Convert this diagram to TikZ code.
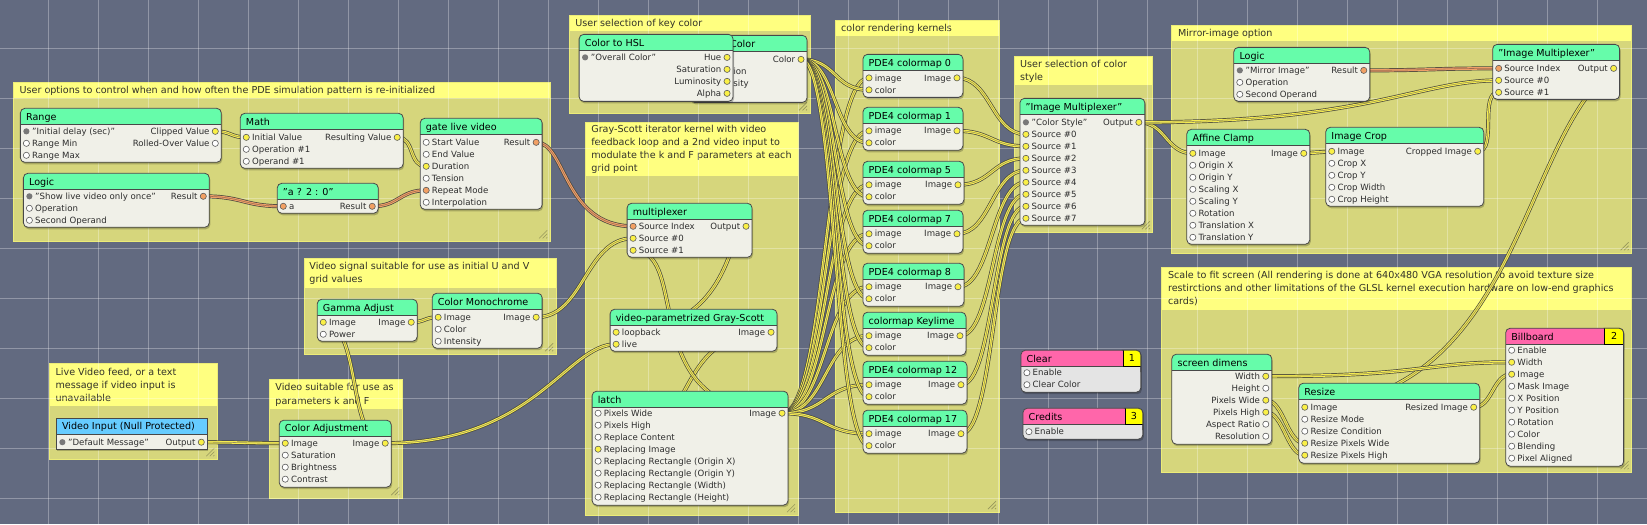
\documentclass[tikz,border=0pt]{standalone}
\usepackage{fontspec}
\setmainfont{DejaVu Sans}
\definecolor{cbg}{RGB}{98,106,128}
\definecolor{cgrpbody}{RGB}{214,214,124}
\definecolor{cgrphead}{RGB}{255,255,128}
\definecolor{cgrpedge}{RGB}{236,236,120}
\definecolor{cgrip}{RGB}{150,150,90}
\definecolor{cgtext}{RGB}{50,50,40}
\definecolor{cnbody}{RGB}{240,240,232}
\definecolor{cgraybody}{RGB}{228,228,228}
\definecolor{chgreen}{RGB}{102,252,170}
\definecolor{chblue}{RGB}{102,204,255}
\definecolor{chpink}{RGB}{255,102,170}
\definecolor{cedge}{RGB}{72,72,72}
\definecolor{cportedge}{RGB}{90,90,90}
\definecolor{cportyel}{RGB}{250,240,70}
\definecolor{cportorg}{RGB}{242,160,100}
\definecolor{cpub}{RGB}{120,120,120}
\definecolor{cplbl}{RGB}{45,45,45}
\definecolor{cbadge}{RGB}{255,255,0}
\definecolor{wireyel}{RGB}{246,236,80}
\definecolor{wireyelc}{RGB}{150,145,90}
\definecolor{wireorg}{RGB}{240,160,105}
\definecolor{wireorgc}{RGB}{160,110,80}
\definecolor{cwedge}{RGB}{70,70,62}
\pgfdeclarelayer{back}
\pgfdeclarelayer{wirel}
\pgfsetlayers{back,wirel,main}
% group box
\newcommand\qgrp[5]{%
  \fill[cgrpbody] (#1,#2) rectangle (#3,#4);
  \fill[cgrphead] (#1,#2) rectangle (#3,#5);
  \draw[grpedge] (#1,#2) rectangle (#3,#4);
  \draw[grip] (#3-3,#4-11) -- (#3-11,#4-3) (#3-3,#4-7.5) -- (#3-7.5,#4-3) (#3-3,#4-4) -- (#3-4,#4-3);}
\newcommand\qtxt[4]{\node[gtxt] (#1) at (#2,#3) {#4};}
% patch
\newcommand\qnode[7][]{%
 \begin{scope}[#1]
  \fill[nshadow,nshape] (#3+1,#4+2) rectangle (#5+1,#6+2);
  \begin{scope}
   \path[clip,nshape] (#3,#4) rectangle (#5,#6);
   \fill[nbody] (#3,#4) rectangle (#5,#6);
   \fill[hdr] (#3,#4) rectangle (#5,#4+16);
   \draw[hdrline] (#3,#4+16) -- (#5,#4+16);
  \end{scope}
  \draw[nedge,nshape] (#3,#4) rectangle (#5,#6);
  \node[ttl] (#2) at (#3+5.5,#4+8.3) {#7};
 \end{scope}}
\newcommand\qbadge[6]{%
 \begin{scope}
  \path[clip,rounded corners=4.5pt] (#2-60,#3) rectangle (#4,#5+20);
  \fill[cbadge] (#2,#3) rectangle (#4,#5);
 \end{scope}
 \draw[line width=.7pt] (#2,#3) -- (#2,#5) -- (#4,#5);
 \draw[nedge,rounded corners=4.5pt] (#2-1,#3) -- (#4,#3) -- (#4,#5+6);
 \node[ttl,anchor=center] (#1) at ({(#2+#4)/2},{(#3+#5)/2}) {#6};}
\newcommand\qin[5]{%
 \coordinate (#1) at (#2,#3);
 \node[plbl,anchor=west] (#1-t) at (#2+5.6,#3) {#5};
 \path[#4] (#2,#3) circle[radius=3.1pt];}
\newcommand\qout[5]{%
 \coordinate (#1) at (#2,#3);
 \node[plbl,anchor=east] (#1-t) at (#2-5.6,#3) {#5};
 \path[#4] (#2,#3) circle[radius=3.1pt];}
\newcommand\qw[4][yel]{%
 \draw[wout] (#2) .. controls #4 .. (#3);
 \draw[win,draw=wire#1] (#2) .. controls #4 .. (#3);
 \draw[wmid,draw=wire#1c] (#2) .. controls #4 .. (#3);}
\newcommand\qws[4][yel]{\qw[#1]{#2}{#3}{+(#4,0) and +(-#4,0)}}
\newcommand\qcm[4]{%
 \qnode{#1}{863}{#2}{#3}{#2+43}{#4}
 \qin{#1-i1}{869}{#2+23.5}{py}{image}
 \qin{#1-i2}{869}{#2+35.5}{py}{color}
 \qout{#1-o1}{#3-6}{#2+23.5}{py}{Image}}
\begin{document}
\begin{tikzpicture}[x=1pt,y=-1pt,
  grpedge/.style={draw=cgrpedge,line width=.8pt},
  grip/.style={draw=cgrip,line width=.6pt},
  gtxt/.style={inner sep=0pt,anchor=west,font=\fontsize{9.6}{11}\selectfont,text height=7pt,text depth=0pt,text=cgtext},
  ttl/.style={inner sep=0pt,anchor=west,font=\fontsize{9.6}{11}\selectfont,text height=7pt,text depth=0pt,text=black},
  plbl/.style={inner sep=0pt,font=\fontsize{8.6}{10}\selectfont,text height=6.3pt,text depth=0pt,text=cplbl},
  nbody/.style={fill=cnbody},
  hdr/.style={fill=chgreen},
  nshape/.style={rounded corners=4.5pt},
  nshadow/.style={fill=black,opacity=.22},
  nedge/.style={draw=cedge,line width=.8pt},
  hdrline/.style={draw=cedge,line width=.6pt},
  py/.style={draw=cportedge,fill=cportyel,line width=.6pt},
  po/.style={draw=cportedge,fill=cportorg,line width=.6pt},
  pp/.style={fill=cpub},
  pn/.style={draw=cportedge,fill=white,line width=.6pt},
  wout/.style={line width=4pt,draw=cwedge},
  win/.style={line width=2.6pt},
  wmid/.style={line width=.55pt},
  gridl/.style={draw=white,opacity=.3,line width=.8pt}]
\begin{pgfonlayer}{back}
\fill[cbg] (0,0) rectangle (1647,524);
\qgrp{13}{82}{550}{241}{98}
\qtxt{g1a}{19}{90}{User options to control when and how often the PDE simulation pattern is re-initialized}
\qgrp{569}{15}{810}{113}{31}
\qtxt{g2a}{575}{23}{User selection of key color}
\qgrp{585}{122}{798}{515}{176}
\qtxt{g3a}{591}{128.5}{Gray-Scott iterator kernel with video}
\qtxt{g3b}{591}{141.5}{feedback loop and a 2nd video input to}
\qtxt{g3c}{591}{154.5}{modulate the k and F parameters at each}
\qtxt{g3d}{591}{167.5}{grid point}
\qgrp{304}{258}{556}{354}{288}
\qtxt{g4a}{309}{266}{Video signal suitable for use as initial U and V}
\qtxt{g4b}{309}{279}{grid values}
\qgrp{49}{363}{217}{459}{406}
\qtxt{g5a}{55}{371.5}{Live Video feed, or a text}
\qtxt{g5b}{55}{384.5}{message if video input is}
\qtxt{g5c}{55}{397.5}{unavailable}
\qgrp{269}{379}{402}{498}{409}
\qtxt{g6a}{275}{387}{Video suitable for use as}
\qtxt{g6b}{275}{400.5}{parameters k and F}
\qgrp{835}{20}{999}{512}{36}
\qtxt{g7a}{841}{27.5}{color rendering kernels}
\qgrp{1014}{56}{1153}{232}{85}
\qtxt{g8a}{1020}{64}{User selection of color}
\qtxt{g8b}{1020}{77}{style}
\qgrp{1172}{25}{1632}{253}{41}
\qtxt{g9a}{1178}{32.5}{Mirror-image option}
\qgrp{1162}{267}{1632}{472}{310}
\qtxt{g10a}{1168}{275}{Scale to fit screen (All rendering is done at 640x480 VGA resolution to avoid texture size}
\qtxt{g10b}{1168}{288}{restirctions and other limitations of the GLSL kernel execution hardware on low-end graphics}
\qtxt{g10c}{1168}{301}{cards)}
\foreach \gx in {48,98,...,1598} \draw[gridl] (\gx,0) -- (\gx,524);
\foreach \gy in {48,98,...,498} \draw[gridl] (0,\gy) -- (1647,\gy);
\end{pgfonlayer}
\useasboundingbox (0,0) rectangle (1647,524);
% ---------- patches ----------
\qnode{range}{20}{108}{221}{162}{Range}
\qin{range-i1}{26}{131}{pp}{"Initial delay (sec)"}
\qin{range-i2}{26}{143}{pn}{Range Min}
\qin{range-i3}{26}{155}{pn}{Range Max}
\qout{range-o1}{215}{131}{py}{Clipped Value}
\qout{range-o2}{215}{143}{pn}{Rolled-Over Value}
\qnode{math}{240}{113}{403}{168}{Math}
\qin{math-i1}{246}{137}{py}{Initial Value}
\qin{math-i2}{246}{149}{pn}{Operation \#1}
\qin{math-i3}{246}{161}{pn}{Operand \#1}
\qout{math-o1}{397}{137}{py}{Resulting Value}
\qnode{logicA}{23}{173}{209}{227}{Logic}
\qin{logicA-i1}{29}{196}{pp}{"Show live video only once"}
\qin{logicA-i2}{29}{208}{pn}{Operation}
\qin{logicA-i3}{29}{220}{pn}{Second Operand}
\qout{logicA-o1}{203}{196}{po}{Result}
\qnode{tern}{277}{183}{378}{213}{"a ? 2 : 0"}
\qin{tern-i1}{283}{206}{po}{a}
\qout{tern-o1}{372}{206}{po}{Result}
\qnode{gate}{420}{118}{542}{209}{gate live video}
\qin{gate-i1}{426}{142}{pn}{Start Value}
\qin{gate-i2}{426}{154}{pn}{End Value}
\qin{gate-i3}{426}{166}{py}{Duration}
\qin{gate-i4}{426}{178}{pn}{Tension}
\qin{gate-i5}{426}{190}{po}{Repeat Mode}
\qin{gate-i6}{426}{202}{pn}{Interpolation}
\qout{gate-o1}{536}{142}{po}{Result}
\qnode{hslc}{690}{35}{807}{102}{HSL to Color}
\qin{hslc-i1}{696}{59}{py}{Hue}
\qin{hslc-i2}{696}{71}{py}{Saturation}
\qin{hslc-i3}{696}{83}{py}{Luminosity}
\qin{hslc-i4}{696}{95}{py}{Alpha}
\qout{hslc-o1}{801}{59}{py}{Color}
\qnode{chsl}{579}{34}{733}{101}{Color to HSL}
\qin{chsl-i1}{585}{57}{pp}{"Overall Color"}
\qout{chsl-o1}{727}{57}{py}{Hue}
\qout{chsl-o2}{727}{69}{py}{Saturation}
\qout{chsl-o3}{727}{81}{py}{Luminosity}
\qout{chsl-o4}{727}{93}{py}{Alpha}
\qnode{gamma}{317}{299}{417}{341}{Gamma Adjust}
\qin{gamma-i1}{323}{322}{py}{Image}
\qin{gamma-i2}{323}{334}{pn}{Power}
\qout{gamma-o1}{411}{322}{py}{Image}
\qnode{mono}{432}{293}{542}{348}{Color Monochrome}
\qin{mono-i1}{438}{317}{py}{Image}
\qin{mono-i2}{438}{329}{pn}{Color}
\qin{mono-i3}{438}{341}{pn}{Intensity}
\qout{mono-o1}{536}{317}{py}{Image}
\qnode[nshape/.style={sharp corners},hdr/.style={fill=chblue}]{vin}{56}{418}{207}{449}{Video Input (Null Protected)}
\qin{vin-i1}{62}{442}{pp}{"Default Message"}
\qout{vin-o1}{201}{442}{py}{Output}
\qnode{cadj}{279}{420}{391}{487}{Color Adjustment}
\qin{cadj-i1}{285}{443}{py}{Image}
\qin{cadj-i2}{285}{455}{pn}{Saturation}
\qin{cadj-i3}{285}{467}{pn}{Brightness}
\qin{cadj-i4}{285}{479}{pn}{Contrast}
\qout{cadj-o1}{385}{443}{py}{Image}
\qnode{mux}{627}{203}{752}{257}{multiplexer}
\qin{mux-i1}{633}{226}{po}{Source Index}
\qin{mux-i2}{633}{238}{py}{Source \#0}
\qin{mux-i3}{633}{250}{py}{Source \#1}
\qout{mux-o1}{746}{226}{py}{Output}
\qnode{gs}{610}{309}{777}{351}{video-parametrized Gray-Scott}
\qin{gs-i1}{616}{332}{py}{loopback}
\qin{gs-i2}{616}{344}{py}{live}
\qout{gs-o1}{771}{332}{py}{Image}
\qnode{latch}{592}{391}{788}{505}{latch}
\qin{latch-i1}{598}{413}{pn}{Pixels Wide}
\qin{latch-i2}{598}{425}{pn}{Pixels High}
\qin{latch-i3}{598}{437}{pn}{Replace Content}
\qin{latch-i4}{598}{449}{py}{Replacing Image}
\qin{latch-i5}{598}{461}{pn}{Replacing Rectangle (Origin X)}
\qin{latch-i6}{598}{473}{pn}{Replacing Rectangle (Origin Y)}
\qin{latch-i7}{598}{485}{pn}{Replacing Rectangle (Width)}
\qin{latch-i8}{598}{497}{pn}{Replacing Rectangle (Height)}
\qout{latch-o1}{782}{413}{py}{Image}
\qcm{cm0}{54}{963}{PDE4 colormap 0}
\qcm{cm1}{107}{963}{PDE4 colormap 1}
\qcm{cm5}{161}{964}{PDE4 colormap 5}
\qcm{cm7}{210}{963}{PDE4 colormap 7}
\qcm{cm8}{263}{964}{PDE4 colormap 8}
\qcm{cmK}{312}{966}{colormap Keylime}
\qcm{cm12}{361}{967}{PDE4 colormap 12}
\qcm{cm17}{410}{967}{PDE4 colormap 17}
\qnode{imux}{1020}{98}{1145}{225}{"Image Multiplexer"}
\qin{imux-c}{1026}{122}{pp}{"Color Style"}
\qin{imux-s0}{1026}{134}{py}{Source \#0}
\qin{imux-s1}{1026}{146}{py}{Source \#1}
\qin{imux-s2}{1026}{158}{py}{Source \#2}
\qin{imux-s3}{1026}{170}{py}{Source \#3}
\qin{imux-s4}{1026}{182}{py}{Source \#4}
\qin{imux-s5}{1026}{194}{py}{Source \#5}
\qin{imux-s6}{1026}{206}{py}{Source \#6}
\qin{imux-s7}{1026}{218}{py}{Source \#7}
\qout{imux-o1}{1139}{122}{py}{Output}
\qnode[hdr/.style={fill=chpink},nbody/.style={fill=cgraybody}]{clear}{1021}{350}{1141}{392}{Clear}
\qbadge{clearb}{1123}{350}{1141}{366}{1}
\qin{clear-i1}{1027}{372.5}{pn}{Enable}
\qin{clear-i2}{1027}{384.5}{pn}{Clear Color}
\qnode[hdr/.style={fill=chpink},nbody/.style={fill=cgraybody}]{credits}{1023}{408}{1143}{439}{Credits}
\qbadge{creditsb}{1125}{408}{1143}{424}{3}
\qin{credits-i1}{1029}{431.5}{pn}{Enable}
\qnode{logicB}{1234}{47}{1370}{101}{Logic}
\qin{logicB-i1}{1240}{70}{pp}{"Mirror Image"}
\qin{logicB-i2}{1240}{82}{pn}{Operation}
\qin{logicB-i3}{1240}{94}{pn}{Second Operand}
\qout{logicB-o1}{1364}{70}{po}{Result}
\qnode{mmux}{1493}{44}{1620}{99}{"Image Multiplexer"}
\qin{mmux-i1}{1499}{68}{po}{Source Index}
\qin{mmux-i2}{1499}{80}{py}{Source \#0}
\qin{mmux-i3}{1499}{92}{py}{Source \#1}
\qout{mmux-o1}{1614}{68}{py}{Output}
\qnode{aff}{1187}{129}{1310}{244}{Affine Clamp}
\qin{aff-i1}{1193}{153}{py}{Image}
\qin{aff-i2}{1193}{165}{pn}{Origin X}
\qin{aff-i3}{1193}{177}{pn}{Origin Y}
\qin{aff-i4}{1193}{189}{pn}{Scaling X}
\qin{aff-i5}{1193}{201}{pn}{Scaling Y}
\qin{aff-i6}{1193}{213}{pn}{Rotation}
\qin{aff-i7}{1193}{225}{pn}{Translation X}
\qin{aff-i8}{1193}{237}{pn}{Translation Y}
\qout{aff-o1}{1304}{153}{py}{Image}
\qnode{crop}{1326}{127}{1484}{206}{Image Crop}
\qin{crop-i1}{1332}{151}{py}{Image}
\qin{crop-i2}{1332}{163}{pn}{Crop X}
\qin{crop-i3}{1332}{175}{pn}{Crop Y}
\qin{crop-i4}{1332}{187}{pn}{Crop Width}
\qin{crop-i5}{1332}{199}{pn}{Crop Height}
\qout{crop-o1}{1478}{151}{py}{Cropped Image}
\qnode{sd}{1172}{354}{1272}{444}{screen dimens}
\qout{sd-o1}{1266}{376}{py}{Width}
\qout{sd-o2}{1266}{388}{pn}{Height}
\qout{sd-o3}{1266}{400}{py}{Pixels Wide}
\qout{sd-o4}{1266}{412}{py}{Pixels High}
\qout{sd-o5}{1266}{424}{pn}{Aspect Ratio}
\qout{sd-o6}{1266}{436}{pn}{Resolution}
\qnode{rsz}{1299}{383}{1480}{463}{Resize}
\qin{rsz-i1}{1305}{407}{py}{Image}
\qin{rsz-i2}{1305}{419}{pn}{Resize Mode}
\qin{rsz-i3}{1305}{431}{pn}{Resize Condition}
\qin{rsz-i4}{1305}{443}{py}{Resize Pixels Wide}
\qin{rsz-i5}{1305}{455}{py}{Resize Pixels High}
\qout{rsz-o1}{1474}{407}{py}{Resized Image}
\qnode[hdr/.style={fill=chpink}]{bb}{1506}{328}{1624}{466}{Billboard}
\qbadge{bbb}{1605}{328}{1624}{344}{2}
\qin{bb-i1}{1512}{350}{pn}{Enable}
\qin{bb-i2}{1512}{362}{py}{Width}
\qin{bb-i3}{1512}{374}{py}{Image}
\qin{bb-i4}{1512}{386}{pn}{Mask Image}
\qin{bb-i5}{1512}{398}{pn}{X Position}
\qin{bb-i6}{1512}{410}{pn}{Y Position}
\qin{bb-i7}{1512}{422}{pn}{Rotation}
\qin{bb-i8}{1512}{434}{pn}{Color}
\qin{bb-i9}{1512}{446}{pn}{Blending}
\qin{bb-i10}{1512}{458}{pn}{Pixel Aligned}
% ---------- connections ----------
\begin{pgfonlayer}{wirel}
\qws{range-o1}{math-i1}{16}
\qws{math-o1}{gate-i3}{18}
\qws[org]{logicA-o1}{tern-i1}{40}
\qws[org]{tern-o1}{gate-i5}{27}
\qw[org]{gate-o1}{mux-i1}{+(30,0) and +(-70,0)}
\qws{vin-o1}{cadj-i1}{40}
\qw{cadj-o1}{gs-i2}{+(150,0) and +(-50,0)}
\qw{cadj-o1}{gamma-i1}{+(-39,0) and +(39,0)}
\qws{gamma-o1}{mono-i1}{14}
\qws{mono-o1}{mux-i2}{48}
\qw{mux-o1}{gs-i1}{+(-20,0) and +(120,0)}
\qw{gs-o1}{latch-i4}{+(-109,0) and +(109,0)}
\qw{latch-o1}{mux-i3}{+(-150,0) and +(60,0)}
\foreach \c in {cm0,cm1,cm5,cm7,cm8,cmK,cm12,cm17} {\qws{latch-o1}{\c-i1}{45}}
\foreach \c in {cm0,cm1,cm5,cm7,cm8,cmK,cm12,cm17} {\qws{hslc-o1}{\c-i2}{36}}
\foreach \c/\s in {cm0/s0,cm1/s1,cm5/s2,cm7/s3,cm8/s4,cmK/s5,cm12/s6,cm17/s7} {\qws{\c-o1}{imux-\s}{34}}
\qws{imux-o1}{aff-i1}{27}
\qw{imux-o1}{mmux-i2}{+(230,0) and +(-80,0)}
\qws{aff-o1}{crop-i1}{14}
\qws{crop-o1}{mmux-i3}{20}
\qws[org]{logicB-o1}{mmux-i1}{67}
\qw{mmux-o1}{rsz-i1}{+(-94,72) and +(215,-7)}
\qw{sd-o1}{bb-i2}{+(160,0) and +(-90,0)}
\qws{sd-o3}{rsz-i4}{18}
\qws{sd-o4}{rsz-i5}{18}
\qws{rsz-o1}{bb-i3}{19}
\end{pgfonlayer}
\end{tikzpicture}
\end{document}
